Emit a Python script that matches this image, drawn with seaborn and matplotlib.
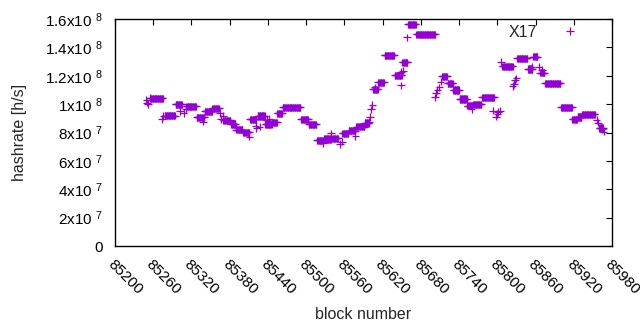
import numpy as np
import pandas as pd
import seaborn as sns
import matplotlib.pyplot as plt
import matplotlib.transforms as mtransforms

# -------------------------------
# Data
# -------------------------------
# difficulty periods where the estimate stays flat: first block, last block, hashrate [1e6 h/s]
run_start = [85256, 85278, 85295, 85312, 85328, 85341, 85353, 85370, 85382, 85390,
             85401, 85412, 85424, 85436, 85447, 85455, 85463, 85492, 85504, 85517,
             85528, 85541, 85557, 85567, 85579, 85592, 85605, 85613, 85623, 85639,
             85651, 85660, 85673, 85713, 85722, 85731, 85741, 85753, 85762, 85776,
             85808, 85831, 85848, 85856, 85867, 85875, 85900, 85918, 85926, 85933,
             85960]
run_end = [85275, 85294, 85305, 85327, 85340, 85352, 85363, 85381, 85389, 85400,
           85411, 85421, 85435, 85446, 85454, 85462, 85491, 85503, 85516, 85527,
           85539, 85550, 85566, 85577, 85591, 85598, 85612, 85622, 85638, 85650,
           85659, 85672, 85702, 85721, 85730, 85740, 85752, 85761, 85775, 85795,
           85824, 85847, 85855, 85863, 85874, 85899, 85917, 85925, 85932, 85953,
           85966]
run_rate = [104.1, 91.8, 99.9, 98.5, 90.7, 94.9, 97.0, 88.6, 86.0, 82.0,
            80.1, 89.3, 91.6, 86.0, 87.2, 93.5, 97.8, 89.3, 85.8, 74.5,
            75.4, 75.9, 79.4, 81.3, 84.1, 86.7, 110.4, 115.4, 134.4, 120.3,
            129.5, 156.3, 149.2, 119.6, 114.7, 110.0, 103.6, 98.9, 99.9, 104.8,
            126.7, 132.3, 124.8, 133.4, 122.1, 114.7, 97.8, 89.3, 91.0, 92.8,
            83.2]

# single blocks off the flat parts
pt_block = [85249, 85250, 85252, 85255, 85274, 85276, 85302, 85308, 85311, 85338,
            85365, 85366, 85370, 85390, 85411, 85421, 85422, 85427, 85438, 85442,
            85527, 85539, 85553, 85556, 85577, 85599, 85600, 85602, 85604, 85608,
            85649, 85649, 85652, 85658, 85702, 85704, 85706, 85709, 85711, 85760,
            85793, 85798, 85800, 85801, 85804, 85806, 85824, 85826, 85828, 85830,
            85854, 85865, 85870, 85956, 85958, 85965, 85967]
pt_rate = [102.9, 101.0, 100.1, 104.3, 89.5, 91.6, 95.1, 93.7, 96.6, 87.6,
           93.7, 89.5, 91.6, 83.9, 77.0, 84.6, 83.2, 84.1, 88.8, 89.5,
           72.4, 79.4, 71.9, 73.5, 77.5, 87.6, 90.9, 96.3, 99.4, 111.8,
           122.6, 113.3, 123.5, 147.1, 104.8, 107.8, 110.0, 111.8, 115.8, 96.6,
           95.4, 91.1, 93.0, 94.4, 95.4, 129.9, 112.8, 114.2, 117.0, 118.2,
           126.4, 126.4, 124.0, 88.8, 86.9, 82.5, 80.6]

x_ticks = list(range(85200, 85981, 60))
y_ticks = [0, 2e7, 4e7, 6e7, 8e7, 1e8, 1.2e8, 1.4e8, 1.6e8]
y_tick_labels = ["0", "2x10 $^{7}$", "4x10 $^{7}$", "6x10 $^{7}$", "8x10 $^{7}$",
                 "1x10 $^{8}$", "1.2x10 $^{8}$", "1.4x10 $^{8}$", "1.6x10 $^{8}$"]


def build_frame():
    """Expand the flat periods to one row per block and add the single blocks."""
    blocks, rates = [], []
    for s, e, r in zip(run_start, run_end, run_rate):
        for b in range(s, e + 1):
            blocks.append(b)
            rates.append(r)
    blocks += pt_block
    rates += pt_rate
    df = pd.DataFrame({"block": blocks, "hashrate": np.array(rates) * 1e6})
    df["series"] = "X17"
    return df


# -------------------------------
# Plot
# -------------------------------
sns.set_style("white")
plt.rcParams["font.family"] = ["Liberation Sans", "DejaVu Sans"]
plt.rcParams["mathtext.default"] = "regular"

df = build_frame()

fig = plt.figure(figsize=(6.4, 3.3), dpi=100)
ax = fig.add_axes([115 / 640, (330 - 246) / 330, 497 / 640, 227 / 330])

sns.scatterplot(data=df, x="block", y="hashrate", hue="series",
                palette=["#9400d3"], marker="+", s=28, linewidth=0.9,
                ax=ax)

ax.set_xlim(85200, 85980)
ax.set_ylim(0, 1.6e8)
ax.set_xticks(x_ticks)
ax.set_yticks(y_ticks)
ax.set_yticklabels(y_tick_labels)
ax.set_xticklabels([str(t) for t in x_ticks], rotation=-45, ha="left",
                   va="top", rotation_mode="anchor")
# gnuplot starts the rotated labels right under the tick
shift = mtransforms.ScaledTranslation(6 / 100, 0, fig.dpi_scale_trans)
for lab in ax.get_xticklabels():
    lab.set_transform(lab.get_transform() + shift)

for sp in ax.spines.values():
    sp.set_visible(True)
    sp.set_color("black")
    sp.set_linewidth(1.0)
ax.tick_params(direction="in", length=4, width=0.8, top=True, right=True,
               labelsize=11, colors="black")
ax.tick_params(axis="x", pad=8)
ax.tick_params(axis="y", pad=9)

ax.set_xlabel("block number", fontsize=11.5, labelpad=7)
ax.set_ylabel("hashrate [h/s]", fontsize=11.5, labelpad=13)

ax.legend(loc="upper right", bbox_to_anchor=(0.948, 0.975), frameon=False,
          markerfirst=False, handlelength=2.0, handletextpad=1.1,
          borderpad=0, borderaxespad=0, fontsize=11.5, markerscale=1.0)

fig.savefig("out.png", dpi=100)
